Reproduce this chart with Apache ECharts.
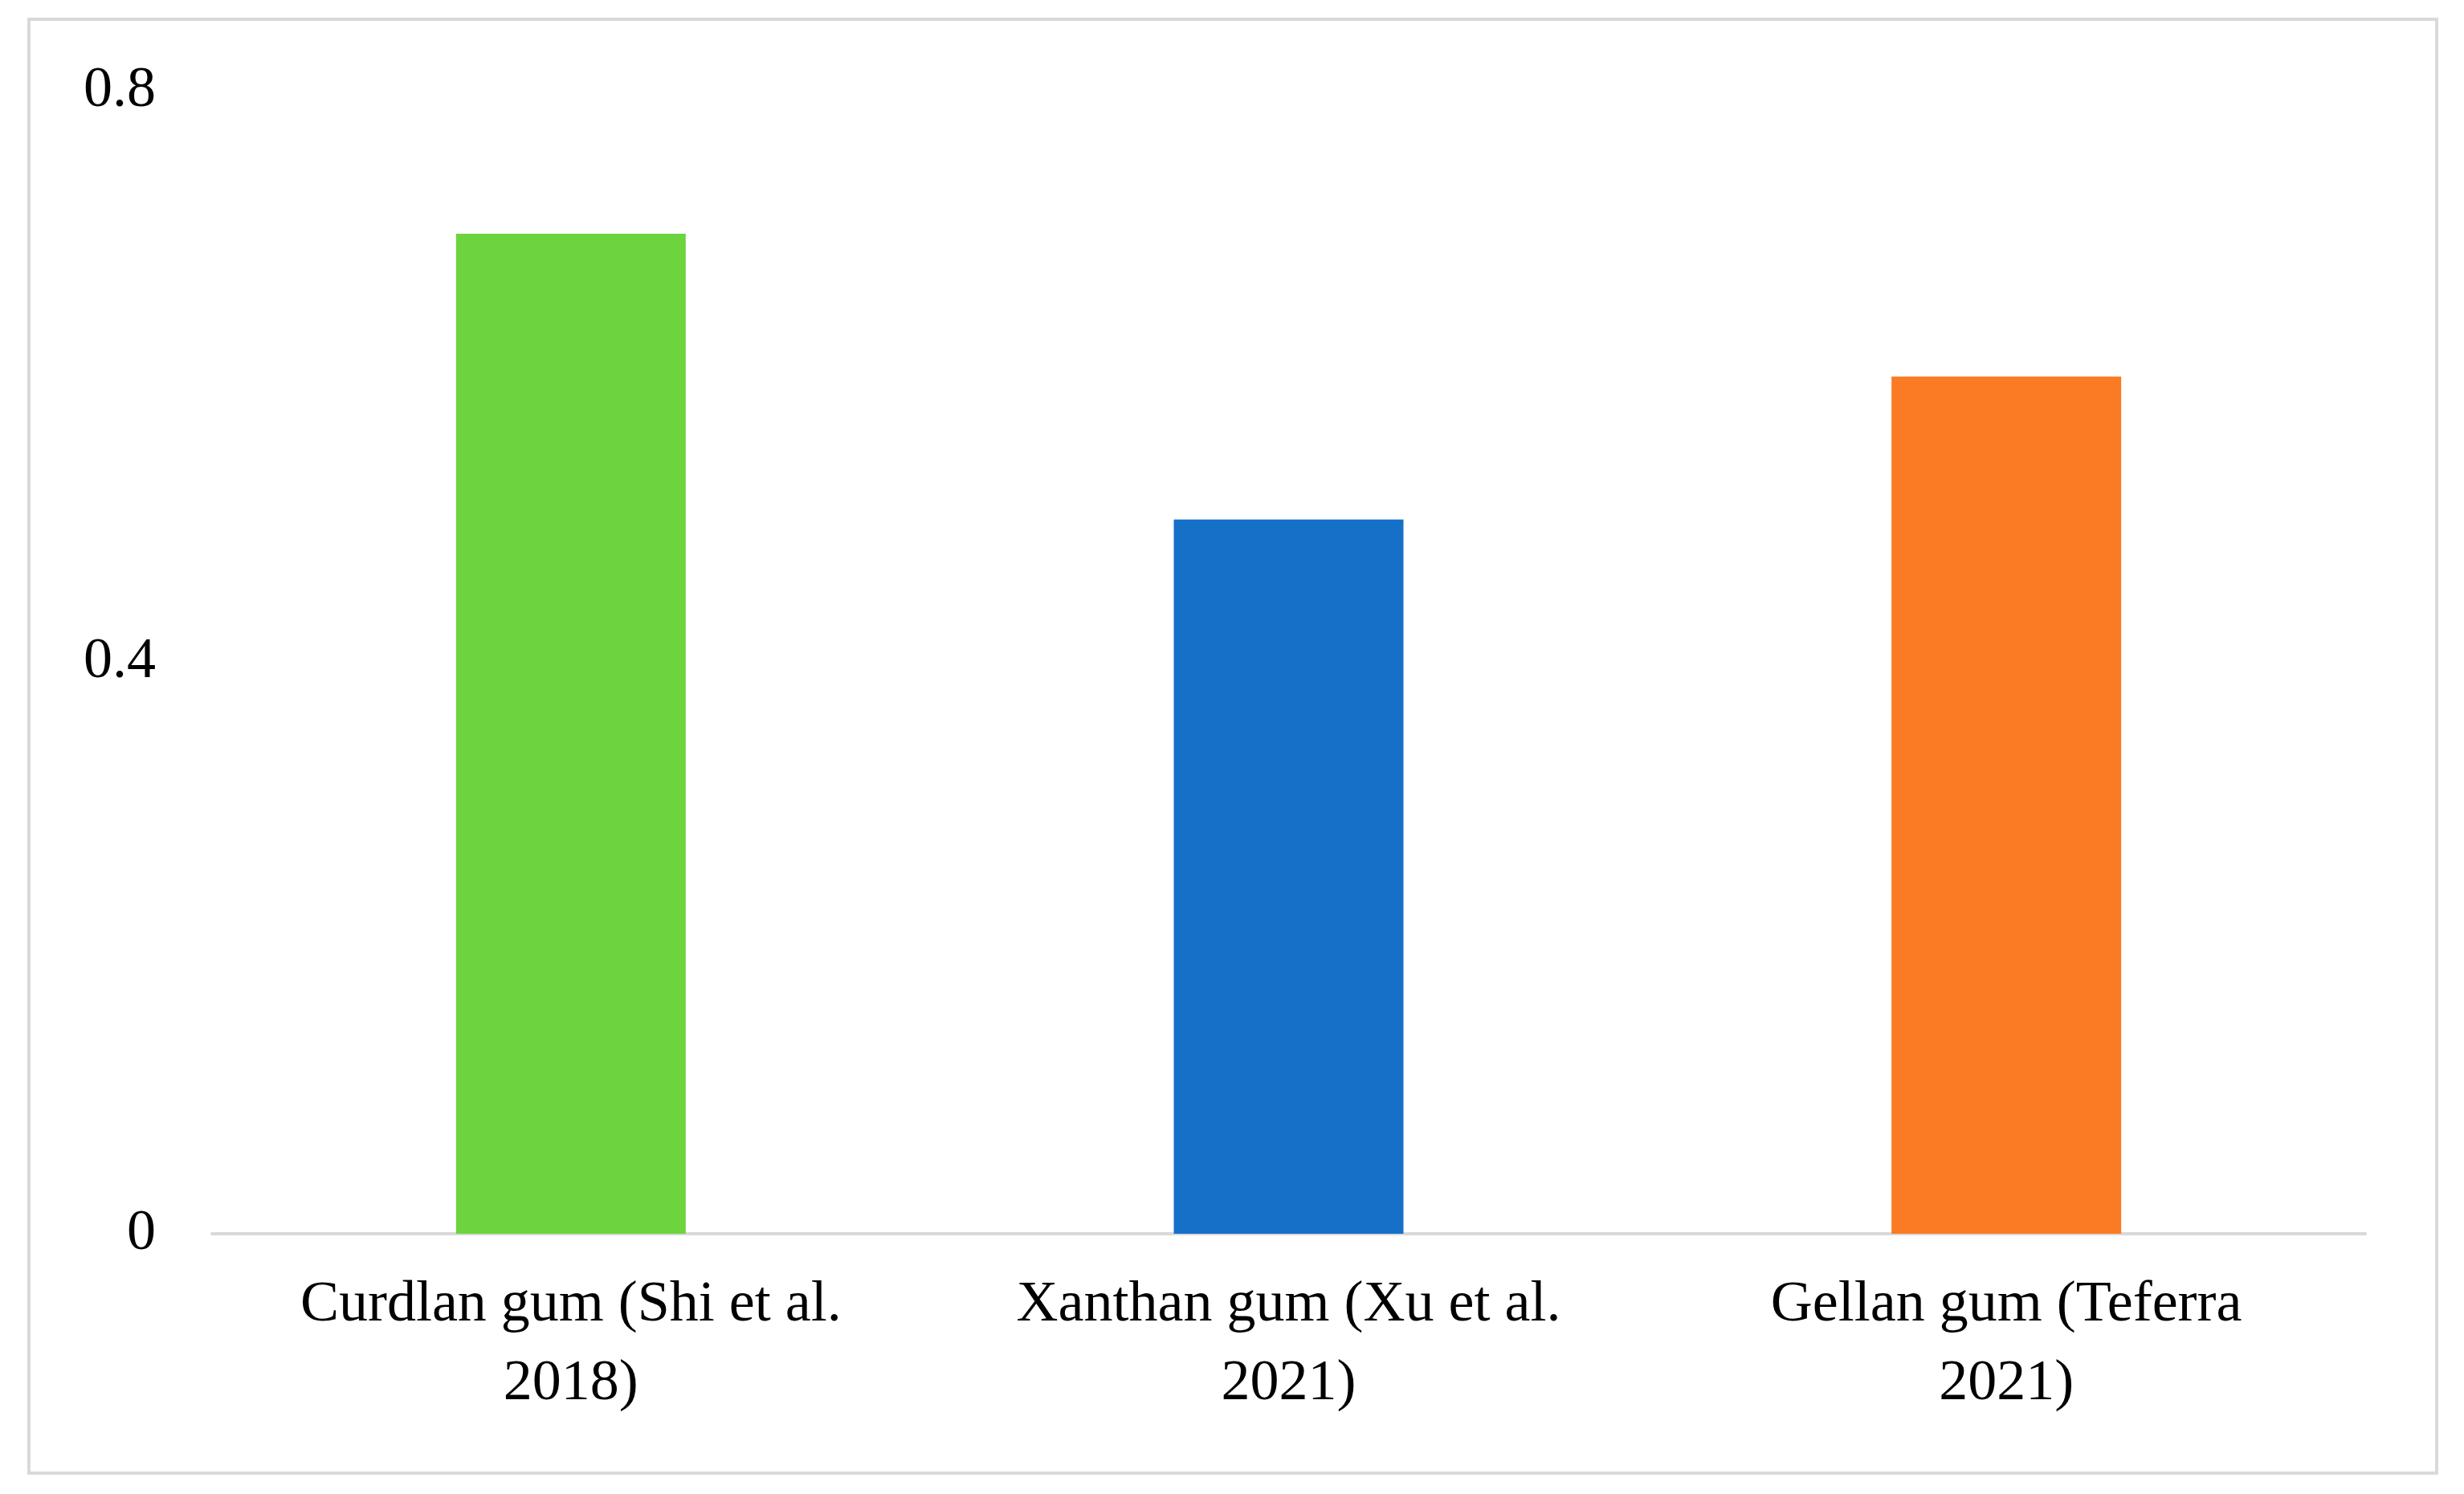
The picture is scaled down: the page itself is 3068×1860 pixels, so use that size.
<!DOCTYPE html>
<html>
<head>
<meta charset="utf-8">
<script src="https://cdn.jsdelivr.net/npm/echarts@6/dist/echarts.min.js"></script>
<style>html,body{margin:0;padding:0;background:#fff}#main{width:3068px;height:1860px}</style>
</head>
<body>
<div id="main"></div>
<script>
// 数据
const categories = ["Curdlan gum (Shi et al.\n2018)", "Xanthan gum (Xu et al.\n2021)", "Gellan gum (Teferra\n2021)"];
const values = [0.7, 0.5, 0.6];
const barColors = ["#6DD33F", "#1770C8", "#FB7B25"];

let myChart = echarts.init(document.getElementById("main"));
const option = {
  backgroundColor: "#fff",
  graphic: [{
    type: "rect",
    shape: { x: 36, y: 24, width: 2998, height: 1810 },
    style: { fill: "none", stroke: "#d9d9d9", lineWidth: 4 }
  }],
  grid: { left: 264, right: 123, top: 113, bottom: 324 },
  xAxis: {
    type: "category",
    data: categories,
    axisLine: { lineStyle: { color: "#d9d9d9", width: 4 } },
    axisTick: { show: false },
    axisLabel: {
      fontFamily: "Liberation Serif",
      fontSize: 72,
      color: "#000",
      lineHeight: 98,
      margin: 40
    }
  },
  yAxis: {
    type: "value",
    min: 0,
    max: 0.8,
    interval: 0.4,
    splitLine: { show: false },
    axisLine: { show: false },
    axisTick: { show: false },
    axisLabel: {
      fontFamily: "Liberation Serif",
      fontSize: 72,
      color: "#000",
      margin: 70
    }
  },
  series: [{
    type: "bar",
    barWidth: "32%",
    data: values.map((v, i) => ({ value: v, itemStyle: { color: barColors[i] } }))
  }]
};
myChart.setOption(option);
</script>
</body>
</html>
